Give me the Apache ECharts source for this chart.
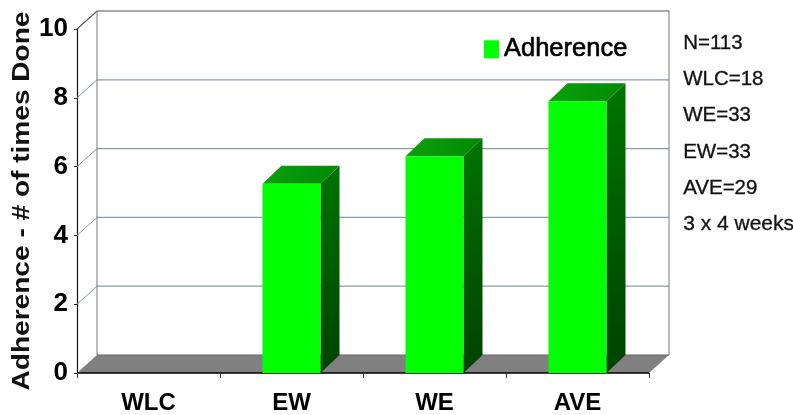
<!DOCTYPE html>
<html><head><meta charset="utf-8">
<script src="https://cdn.jsdelivr.net/npm/echarts@6/dist/echarts.min.js"></script>
<style>html,body{margin:0;padding:0;background:#fff}#c{width:793px;height:415px}</style>
</head><body><div id="c"></div>
<script>
const categories = ['WLC','EW','WE','AVE'];
const adherence = [0, 5.5, 6.3, 7.9];
const yTicks = [0, 2, 4, 6, 8, 10];
const notes = ['N=113','WLC=18','WE=33','EW=33','AVE=29','3 x 4 weeks'];
const seriesName = 'Adherence';
const yTitle = 'Adherence - # of times Done';

const DX = 20, DY = -18, BAR_W = 58;
const FONT = '"Liberation Sans", Arial, sans-serif';
const chart = echarts.init(document.getElementById('c'), null, {renderer:'canvas'});

function line(pts, color, w){
  return {type:'polyline', shape:{points:pts}, style:{stroke:color, lineWidth:w, fill:null}};
}
function wallItem(params, api){
  const v = api.value(0);
  const cs = params.coordSys;
  const y = api.coord([0, v])[1];
  const x0 = cs.x, x1 = cs.x + cs.width;
  const kids = [];
  if (v === 0) {
    kids.push({type:'polygon', shape:{points:[[x0,y],[x1,y],[x1+DX,y+DY],[x0+DX,y+DY]]},
      style:{fill:'#808080'}});
    kids.push(line([[x0+DX,y+DY],[x1+DX,y+DY]], '#666666', 1));
    kids.push(line([[x0,y],[x1,y]], '#000000', 1.5));
  } else if (v === yTicks[yTicks.length-1]) {
    kids.push(line([[x0,y],[x0+DX,y+DY],[x1+DX,y+DY]], '#555555', 1.2));
    kids.push(line([[x0+DX,y+DY],[x0+DX,cs.y+cs.height+DY]], '#777777', 1));
    kids.push(line([[x1+DX,y+DY],[x1+DX,cs.y+cs.height+DY]], '#777777', 1));
  } else {
    kids.push(line([[x0,y],[x0+DX,y+DY]], '#8c9aa6', 1));
    kids.push(line([[x0+DX,y+DY],[x1+DX,y+DY]], '#8a9cab', 1.2));
  }
  return {type:'group', children:kids};
}
function barItem(params, api){
  const v = api.value(1);
  if (!v) return null;
  const top = api.coord([api.value(0), v]);
  const bot = api.coord([api.value(0), 0]);
  const l = top[0]-BAR_W/2, r = top[0]+BAR_W/2, t = top[1], b = bot[1];
  return {type:'group', children:[
    {type:'polygon', shape:{points:[[r,t],[r+DX-1,t+DY],[r+DX-1,b+DY],[r,b]]},
     style:{fill:new echarts.graphic.LinearGradient(0,0,0,1,[{offset:0,color:'#007400'},{offset:1,color:'#004200'}])}},
    {type:'polygon', shape:{points:[[l,t],[l+DX-1,t+DY],[r+DX-1,t+DY],[r,t]]},
     style:{fill:new echarts.graphic.LinearGradient(0,0,1,0,[{offset:0,color:'#0ca00c'},{offset:1,color:'#008a00'}])}},
    {type:'rect', shape:{x:l,y:t,width:BAR_W,height:b-t}, style:{fill:'#00ff00'}}
  ]};
}
chart.setOption({
  animation:false,
  backgroundColor:'#ffffff',
  grid:{left:77,right:144,top:29,bottom:42,containLabel:false,outerBoundsMode:'none'},
  legend:{
    left:479, top:31, icon:'rect', itemWidth:15, itemHeight:18, itemGap:6,
    data:[{name:seriesName,itemStyle:{color:'#00ff00'}}],
    textStyle:{fontFamily:FONT,fontSize:25.5,color:'#000',textBorderColor:'#000',textBorderWidth:0.6},
    selectedMode:false
  },
  xAxis:{
    type:'category', data:categories, boundaryGap:true,
    axisLine:{show:false},
    axisTick:{show:true,alignWithLabel:false,length:5,lineStyle:{color:'#333',width:1}},
    axisLabel:{fontFamily:FONT,fontWeight:'bold',fontSize:24,color:'#000',margin:18,interval:0},
    splitLine:{show:false}, z:5
  },
  yAxis:{
    type:'value', min:0, max:10, interval:2,
    axisLine:{show:true,lineStyle:{color:'#111',width:1.2}},
    axisTick:{show:true,length:3,lineStyle:{color:'#222'}},
    axisLabel:{fontFamily:FONT,fontWeight:'bold',fontSize:26,color:'#000',margin:9},
    splitLine:{show:false}
  },
  series:[
    {type:'custom', name:'wall', silent:true, z:1, renderItem:wallItem,
     data:yTicks.map(v=>[v]), encode:{y:0}},
    {type:'custom', name:seriesName, silent:true, z:3, renderItem:barItem,
     itemStyle:{color:'#00ff00'},
     data:categories.map((c,i)=>[i,adherence[i]]), encode:{x:0,y:1}}
  ],
  graphic:[
    {type:'text', x:23, y:201, rotation:Math.PI/2, scaleX:1.22, silent:true,
     style:{text:yTitle,fontFamily:FONT,fontWeight:'bold',fontSize:23,fill:'#111',align:'center',verticalAlign:'middle'}}
  ].concat(notes.map((t,i)=>({
    type:'text', left:683, top:[33,69,105,142,178,214][i], silent:true,
    style:{text:t,fontFamily:FONT,fontSize:i===5?21:20.5,fill:'#111',stroke:'#111',lineWidth:0.3}
  })))
});
</script></body></html>
